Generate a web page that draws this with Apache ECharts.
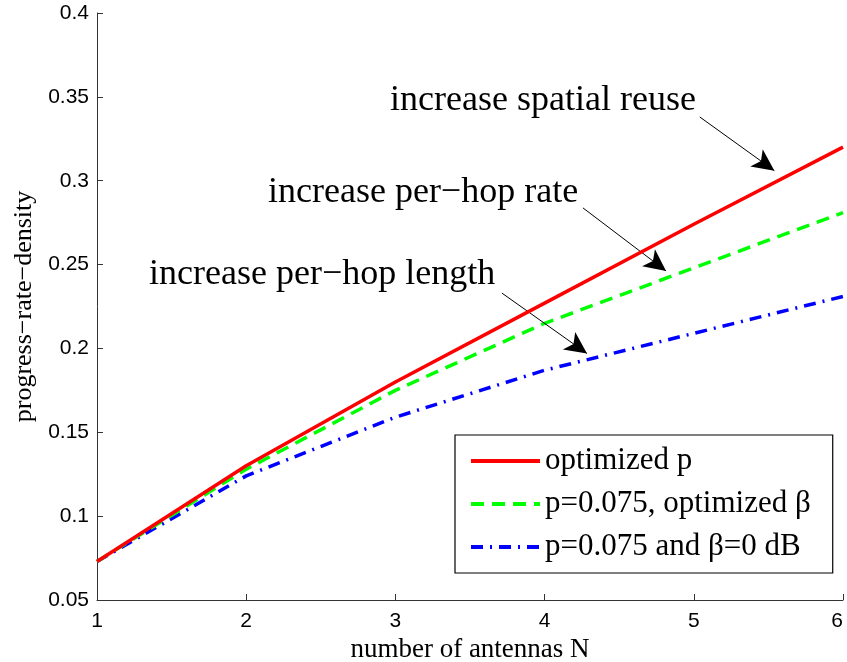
<!DOCTYPE html>
<html>
<head>
<meta charset="utf-8">
<script src="https://cdn.jsdelivr.net/npm/echarts@6/dist/echarts.min.js"></script>
<style>
html,body{margin:0;padding:0;background:#fff;overflow:hidden;}
#c{width:847px;height:662px;}
</style>
</head>
<body>
<div id="c"></div>
<script>
// ---- data ----
var antennas = [1, 2, 3, 4, 5, 6];
var optimizedP = [0.073, 0.130, 0.180, 0.227, 0.274, 0.320];
var fixedPOptBeta = [0.073, 0.128, 0.175, 0.215, 0.248, 0.281];
var fixedPZeroBeta = [0.073, 0.124, 0.159, 0.187, 0.209, 0.231];
var seriesNames = ['optimized p', 'p=0.075, optimized \u03b2', 'p=0.075 and \u03b2=0 dB'];
var xTicks = [1, 2, 3, 4, 5, 6];
var yTicks = [0.05, 0.1, 0.15, 0.2, 0.25, 0.3, 0.35, 0.4];
// annotations (data coordinates)
var annoTexts = ['increase spatial reuse', 'increase per\u2212hop rate', 'increase per\u2212hop length'];
var annoTextPos = [[2.964, 0.348], [2.146, 0.293], [1.349, 0.2438]];
var arrowFrom = [[5.04, 0.338], [4.257, 0.2838], [3.714, 0.233]];
var arrowTo = [[5.54, 0.306], [4.814, 0.2462], [4.284, 0.197]];

function pairs(xs, ys) { return xs.map(function (x, i) { return [x, ys[i]]; }); }

var serif = '"Liberation Serif", "DejaVu Serif", serif';
var sans = '"Liberation Sans", Arial, sans-serif';

var chart = echarts.init(document.getElementById('c'), null, {renderer: 'canvas'});
chart.setOption({
  animation: false,
  backgroundColor: '#fff',
  grid: {left: 97, right: 4, top: 13, bottom: 62, containLabel: false, outerBoundsMode: 'none'},
  xAxis: {
    type: 'value', min: xTicks[0], max: xTicks[xTicks.length - 1], interval: 1,
    name: 'number of antennas N', nameLocation: 'middle', nameGap: 32,
    nameTextStyle: {fontFamily: serif, fontSize: 27, color: '#000'},
    axisLine: {show: true, onZero: false, lineStyle: {color: '#333', width: 1}},
    axisTick: {show: true, inside: true, length: 6, lineStyle: {color: '#333'}},
    axisLabel: {fontFamily: sans, fontSize: 21, color: '#000', margin: 11, alignMaxLabel: 'right'},
    splitLine: {show: false}
  },
  yAxis: {
    type: 'value', min: yTicks[0], max: yTicks[yTicks.length - 1], interval: 0.05,
    name: 'progress\u2212rate\u2212density', nameLocation: 'middle', nameGap: 58,
    nameTextStyle: {fontFamily: serif, fontSize: 26, color: '#000'},
    axisLine: {show: true, lineStyle: {color: '#333', width: 1}},
    axisTick: {show: true, inside: true, length: 6, lineStyle: {color: '#333'}},
    axisLabel: {fontFamily: sans, fontSize: 21, color: '#000', margin: 8,
      formatter: function (v) { return String(Math.round(v * 100) / 100); }},
    splitLine: {show: false}
  },
  legend: {
    orient: 'vertical', left: 455, top: 435,
    data: seriesNames,
    itemWidth: 69, itemHeight: 14, itemGap: 11, itemTextGap: 8,
    padding: [10, 22, 10, 14],
    borderColor: '#000', borderWidth: 1.2, backgroundColor: '#fff',
    itemStyle: {opacity: 0},
    lineStyle: {width: 4},
    textStyle: {fontFamily: serif, fontSize: 31, color: '#000', lineHeight: 32}
  },
  series: [
    {name: seriesNames[0], type: 'line', symbol: 'none', data: pairs(antennas, optimizedP),
     lineStyle: {color: '#ff0000', width: 3.5, type: 'solid'}, itemStyle: {color: '#ff0000'}, z: 5},
    {name: seriesNames[1], type: 'line', symbol: 'none', data: pairs(antennas, fixedPOptBeta),
     lineStyle: {color: '#00ff00', width: 3.5, type: [13, 8]}, itemStyle: {color: '#00ff00'}, z: 4},
    {name: seriesNames[2], type: 'line', symbol: 'none', data: pairs(antennas, fixedPZeroBeta),
     lineStyle: {color: '#0000ff', width: 3.5, type: [12, 7, 2, 7]}, itemStyle: {color: '#0000ff'}, z: 3},
    {name: 'annotations', type: 'line', data: [], symbol: 'none', silent: true,
     markLine: {
       silent: true, symbol: ['none', 'arrow'], symbolSize: [16, 22],
       lineStyle: {color: '#000', width: 1, type: 'solid'},
       label: {show: false},
       data: arrowFrom.map(function (f, i) { return [{coord: f}, {coord: arrowTo[i]}]; })
     },
     markPoint: {
       silent: true, symbol: 'circle', symbolSize: 0,
       label: {show: true, position: 'right', distance: 0, fontFamily: serif, fontSize: 36, color: '#000',
         formatter: function (p) { return p.name; }},
       data: annoTexts.map(function (t, i) { return {name: t, coord: annoTextPos[i]}; })
     }
    }
  ]
});
</script>
</body>
</html>
